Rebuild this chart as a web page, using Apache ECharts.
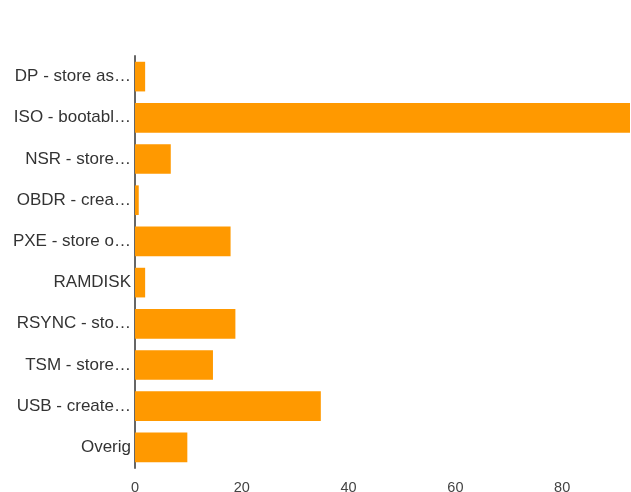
<!DOCTYPE html>
<html>
<head>
<meta charset="utf-8">
<script src="https://cdn.jsdelivr.net/npm/echarts@6/dist/echarts.min.js"></script>
<style>html,body{margin:0;padding:0;background:#fff}#c{width:631px;height:492px}</style>
</head>
<body>
<div id="c"></div>
<script>
var categories = ["DP - store as\u2026", "ISO - bootabl\u2026", "NSR - store\u2026", "OBDR - crea\u2026", "PXE - store o\u2026", "RAMDISK", "RSYNC - sto\u2026", "TSM - store\u2026", "USB - create\u2026", "Overig"];
var values = [1.9, 92.7, 6.7, 0.7, 17.9, 1.9, 18.8, 14.6, 34.8, 9.8];
var tickValues = [0, 20, 40, 60, 80];

var chart = echarts.init(document.getElementById('c'), null, {renderer: 'canvas'});
chart.setOption({
  animation: false,
  grid: {left: 135, right: 1, top: 56, bottom: 24, containLabel: false, outerBoundsMode: 'none'},
  xAxis: {
    type: 'value', min: 0, max: 92.7, interval: 20,
    axisLine: {show: false}, axisTick: {show: false},
    splitLine: {show: false},
    axisLabel: {show: true, showMaxLabel: false, color: '#444', fontFamily: 'Liberation Sans, Arial, sans-serif', fontSize: 14.5, margin: 12,
      formatter: function (v) { return tickValues.indexOf(v) >= 0 ? String(v) : ''; }}
  },
  yAxis: {
    type: 'category', data: categories, inverse: true,
    axisLine: {show: true, onZero: false, lineStyle: {color: '#666', width: 2}},
    axisTick: {show: false},
    axisLabel: {color: '#333', fontFamily: 'Liberation Sans, Arial, sans-serif', fontSize: 17, margin: 4}
  },
  series: [{
    type: 'bar', data: values, barCategoryGap: '28%',
    itemStyle: {color: '#ff9900'}
  }]
});
</script>
</body>
</html>
